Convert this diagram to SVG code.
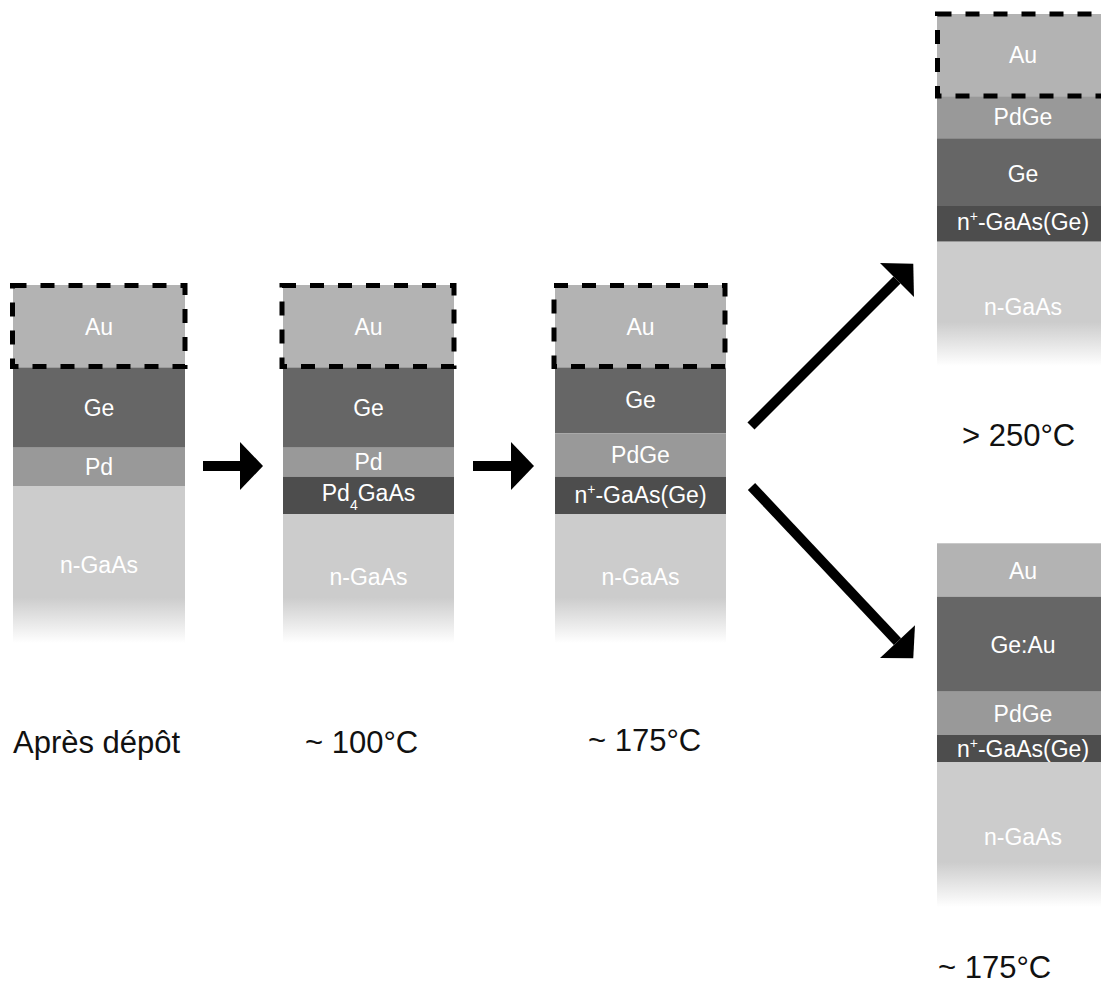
<svg xmlns="http://www.w3.org/2000/svg" width="1101" height="988" viewBox="0 0 1101 988">
<style>
.au{fill:#b3b3b3}.ge{fill:#666666}.pd{fill:#999999}.dk{fill:#4d4d4d}.gaas{fill:#cccccc}
.fade{fill:url(#fadeG)}
.lt{font-family:"Liberation Sans",Arial,sans-serif;font-size:23px;fill:#ffffff;text-anchor:middle}
.cap{font-family:"Liberation Sans",Arial,sans-serif;font-size:31px;fill:#111111}
.dash{fill:none;stroke:#000;stroke-width:5;stroke-dasharray:14 14}
.arr{fill:none;stroke:#000;stroke-width:10;marker-end:url(#head)}
</style>
<defs>
<linearGradient id="fadeG" x1="0" y1="0" x2="0" y2="1">
<stop offset="0" stop-color="#cccccc"/>
<stop offset="1" stop-color="#ffffff"/>
</linearGradient>
<marker id="head" markerUnits="userSpaceOnUse" markerWidth="26" markerHeight="50" viewBox="0 -25 24 50" refX="0" refY="0" orient="auto">
<path d="M0,-24 L23,0 L0,24 Z" fill="#000"/>
</marker>
</defs>
<rect width="1101" height="988" fill="#ffffff"/>

<g id="stack1">
<rect class="au" x="13" y="285" width="172" height="83"/>
<rect class="ge" x="13" y="367.7" width="172" height="80"/>
<rect class="pd" x="13" y="447.7" width="172" height="38.3"/>
<rect class="gaas" x="13" y="486" width="172" height="112"/>
<rect class="fade" x="13" y="597.5" width="172" height="45.5"/>
<rect class="dash" x="12.5" y="285.5" width="172.5" height="81"/>
<text class="lt" x="99" y="335">Au</text>
<text class="lt" x="99" y="415.7">Ge</text>
<text class="lt" x="99" y="475">Pd</text>
<text class="lt" x="99" y="573">n-GaAs</text>
</g>

<g id="stack2">
<rect class="au" x="283" y="285" width="171" height="83"/>
<rect class="ge" x="283" y="367.7" width="171" height="80"/>
<rect class="pd" x="283" y="447.7" width="171" height="29"/>
<rect class="dk" x="283" y="476.7" width="171" height="37.3"/>
<rect class="gaas" x="283" y="514" width="171" height="84"/>
<rect class="fade" x="283" y="597.5" width="171" height="45.5"/>
<rect class="dash" x="282" y="285.5" width="172" height="81"/>
<text class="lt" x="368.5" y="335">Au</text>
<text class="lt" x="368.5" y="415.7">Ge</text>
<text class="lt" x="368.5" y="470">Pd</text>
<text class="lt" x="368.5" y="500.7">Pd<tspan font-size="14" dy="9">4</tspan><tspan dy="-9">GaAs</tspan></text>
<text class="lt" x="368.5" y="585">n-GaAs</text>
</g>

<g id="stack3">
<rect class="au" x="555" y="285" width="171" height="83"/>
<rect class="ge" x="555" y="367.7" width="171" height="65.6"/>
<rect class="pd" x="555" y="433.3" width="171" height="43.4"/>
<rect class="dk" x="555" y="476.7" width="171" height="37.6"/>
<rect class="gaas" x="555" y="514.3" width="171" height="83.7"/>
<rect class="fade" x="555" y="597.5" width="171" height="45.5"/>
<rect class="dash" x="554" y="285.5" width="171" height="81"/>
<text class="lt" x="640.5" y="335">Au</text>
<text class="lt" x="640.5" y="408.3">Ge</text>
<text class="lt" x="640.5" y="463">PdGe</text>
<text class="lt" x="640.5" y="503">n<tspan font-size="14" dy="-9">+</tspan><tspan dy="9">-GaAs(Ge)</tspan></text>
<text class="lt" x="640.5" y="585">n-GaAs</text>
</g>

<g id="stack4">
<rect class="au" x="937" y="14" width="172" height="83"/>
<rect class="pd" x="937" y="96.7" width="172" height="41.6"/>
<rect class="ge" x="937" y="138.3" width="172" height="67.7"/>
<rect class="dk" x="937" y="206" width="172" height="35.7"/>
<rect class="gaas" x="937" y="241.7" width="172" height="80.8"/>
<rect class="fade" x="937" y="322" width="172" height="44"/>
<rect class="dash" x="937.5" y="14" width="171" height="82"/>
<text class="lt" x="1023" y="63.3">Au</text>
<text class="lt" x="1023" y="125">PdGe</text>
<text class="lt" x="1023" y="181.7">Ge</text>
<text class="lt" x="1023" y="230">n<tspan font-size="14" dy="-9">+</tspan><tspan dy="9">-GaAs(Ge)</tspan></text>
<text class="lt" x="1023" y="315">n-GaAs</text>
</g>

<g id="stack5">
<rect class="au" x="937" y="543.3" width="172" height="53.4"/>
<rect class="ge" x="937" y="596.7" width="172" height="95"/>
<rect class="pd" x="937" y="691.7" width="172" height="43.3"/>
<rect class="dk" x="937" y="735" width="172" height="27.3"/>
<rect class="gaas" x="937" y="762.3" width="172" height="100.2"/>
<rect class="fade" x="937" y="862" width="172" height="45"/>
<text class="lt" x="1023" y="579.3">Au</text>
<text class="lt" x="1023" y="653.3">Ge:Au</text>
<text class="lt" x="1023" y="721.7">PdGe</text>
<text class="lt" x="1023" y="757">n<tspan font-size="14" dy="-9">+</tspan><tspan dy="9">-GaAs(Ge)</tspan></text>
<text class="lt" x="1023" y="845">n-GaAs</text>
</g>

<g id="connectors">
<line class="arr" x1="203" y1="466" x2="240" y2="466"/>
<line class="arr" x1="473" y1="466" x2="511" y2="466"/>
<line class="arr" x1="751" y1="426" x2="897" y2="280"/>
<line class="arr" x1="751.5" y1="486.5" x2="897.5" y2="641.6"/>
</g>

<g id="labels">
<text class="cap" x="13" y="753">Après dépôt</text>
<text class="cap" x="305" y="753">~ 100°C</text>
<text class="cap" x="588" y="751">~ 175°C</text>
<text class="cap" x="962" y="446">&gt; 250°C</text>
<text class="cap" x="938" y="978">~ 175°C</text>
</g>
</svg>
